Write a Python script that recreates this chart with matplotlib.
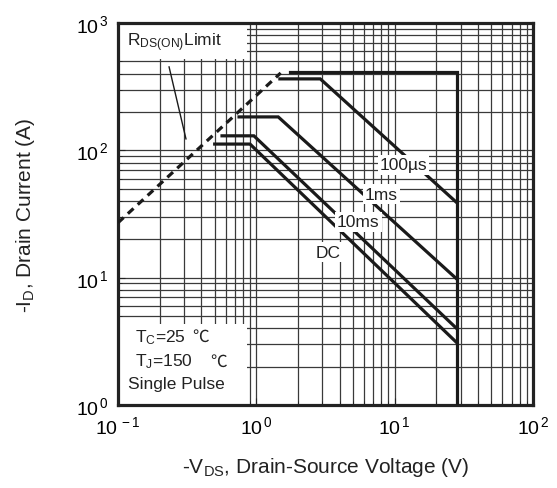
"""
Safe operating area, P-channel MOSFET
"""
import matplotlib
matplotlib.use("Agg")
import matplotlib.pyplot as plt
from matplotlib.patches import Rectangle
from matplotlib.ticker import FixedLocator, FixedFormatter, LogLocator, NullFormatter


plt.rcParams["font.family"] = ["Liberation Sans", "DejaVu Sans"]
plt.rcParams["mathtext.fontset"] = "custom"
plt.rcParams["mathtext.rm"] = "Liberation Sans"
plt.rcParams["mathtext.it"] = "Liberation Sans:italic"

# R_DS(on) limit (dashed)
rds_v = [0.1, 1.5]
rds_i = [27, 405]

# pulse limits: flat current, then constant-power slope down to BVdss
limit_top_v = [1.75, 28, 28]
limit_top_i = [410, 410, 1]
pulse_100us_v = [1.48, 2.9, 28]
pulse_100us_i = [364, 364, 39]
pulse_1ms_v = [0.75, 1.44, 28]
pulse_1ms_i = [183, 183, 9.8]
pulse_10ms_v = [0.565, 0.96, 28]
pulse_10ms_i = [130, 130, 4.0]
dc_v = [0.50, 0.90, 28]
dc_i = [112, 112, 3.1]

decades_x = [0.1, 1, 10, 100]
decades_x_labels = [r"$10^{\,-1}$", r"$10^{\,0}$", r"$10^{\,1}$", r"$10^{\,2}$"]
decades_y = [1, 10, 100, 1000]
decades_y_labels = [r"$10^{\,0}$", r"$10^{\,1}$", r"$10^{\,2}$", r"$10^{\,3}$"]

fig = plt.figure(figsize=(5.57, 4.89), dpi=100)
ax = fig.add_axes([118 / 557, 83 / 489, 415 / 557, 382 / 489])
ax.set_xscale("log")
ax.set_yscale("log")
ax.set_xlim(0.1, 100)
ax.set_ylim(1, 1000)

ax.xaxis.set_major_locator(FixedLocator(decades_x))
ax.xaxis.set_major_formatter(FixedFormatter(decades_x_labels))
ax.yaxis.set_major_locator(FixedLocator(decades_y))
ax.yaxis.set_major_formatter(FixedFormatter(decades_y_labels))
for axis in (ax.xaxis, ax.yaxis):
    axis.set_minor_locator(LogLocator(base=10, subs=range(2, 10)))
    axis.set_minor_formatter(NullFormatter())

ax.grid(True, which="both", color="#3a3a3a", linewidth=0.9)
ax.set_axisbelow(True)
ax.tick_params(which="both", direction="in", color="#222222", labelsize=14, pad=7)
ax.tick_params(which="major", length=5)
ax.tick_params(which="minor", length=3)
for s in ax.spines.values():
    s.set_linewidth(2.3)
    s.set_color("#222222")

# white boxes behind the notes
ax.add_patch(Rectangle((0, 0.905), 0.31, 0.09, transform=ax.transAxes,
                       facecolor="white", edgecolor="none", zorder=1.5))
ax.add_patch(Rectangle((0, 0.0), 0.31, 0.212, transform=ax.transAxes,
                       facecolor="white", edgecolor="none", zorder=1.5))

line_kw = dict(color="#1a1a1a", linewidth=2.3, solid_joinstyle="miter", zorder=3)
ax.plot(rds_v, rds_i, color="#1a1a1a", linewidth=2.3, dashes=(2.4, 1.8), zorder=3)
ax.plot(limit_top_v, limit_top_i, **line_kw)
ax.plot(pulse_100us_v, pulse_100us_i, **line_kw)
ax.plot(pulse_1ms_v, pulse_1ms_i, **line_kw)
ax.plot(pulse_10ms_v, pulse_10ms_i, **line_kw)
ax.plot(dc_v, dc_i, **line_kw)

lbl_box = dict(facecolor="white", edgecolor="none", pad=1.5)
ax.text(7.8, 76.8, "100µs", fontsize=12.5, va="center", color="#222222", bbox=lbl_box, zorder=4)
ax.text(6.1, 45.4, "1ms", fontsize=12.5, va="center", color="#222222", bbox=lbl_box, zorder=4)
ax.text(3.83, 27.4, "10ms", fontsize=12.5, va="center", color="#222222", bbox=lbl_box, zorder=4)
ax.text(2.7, 15.9, "DC", fontsize=12.5, va="center", color="#222222", bbox=lbl_box, zorder=4)

ax.text(0.022, 0.95, r"R$_{\mathrm{DS(ON)}}$Limit", transform=ax.transAxes,
        fontsize=12.5, va="center", color="#222222", zorder=4)
ax.plot([0.234, 0.31], [452, 123], color="#1a1a1a", linewidth=1.0, zorder=3)

note_kw = dict(transform=ax.transAxes, fontsize=12.5, va="center", color="#222222", zorder=4)
deg_kw = dict(note_kw, family=["Noto Sans CJK SC", "DejaVu Sans"], fontsize=12)
ax.text(0.041, 0.18, r"T$_{\mathrm{C}}$=25", **note_kw)
ax.text(0.178, 0.18, "℃", **deg_kw)
ax.text(0.041, 0.115, r"T$_{\mathrm{J}}$=150", **note_kw)
ax.text(0.222, 0.115, "℃", **deg_kw)
ax.text(0.024, 0.055, "Single Pulse", **note_kw)

ax.set_xlabel(r"-V$_{\mathrm{DS}}$, Drain-Source Voltage (V)", fontsize=15, color="#222222")
ax.set_ylabel(r"-I$_{\mathrm{D}}$, Drain Current (A)", fontsize=15, color="#222222")
ax.xaxis.set_label_coords(0.5, -0.13)
ax.yaxis.set_label_coords(-0.195, 0.5)

fig.savefig("out.png", dpi=100)
